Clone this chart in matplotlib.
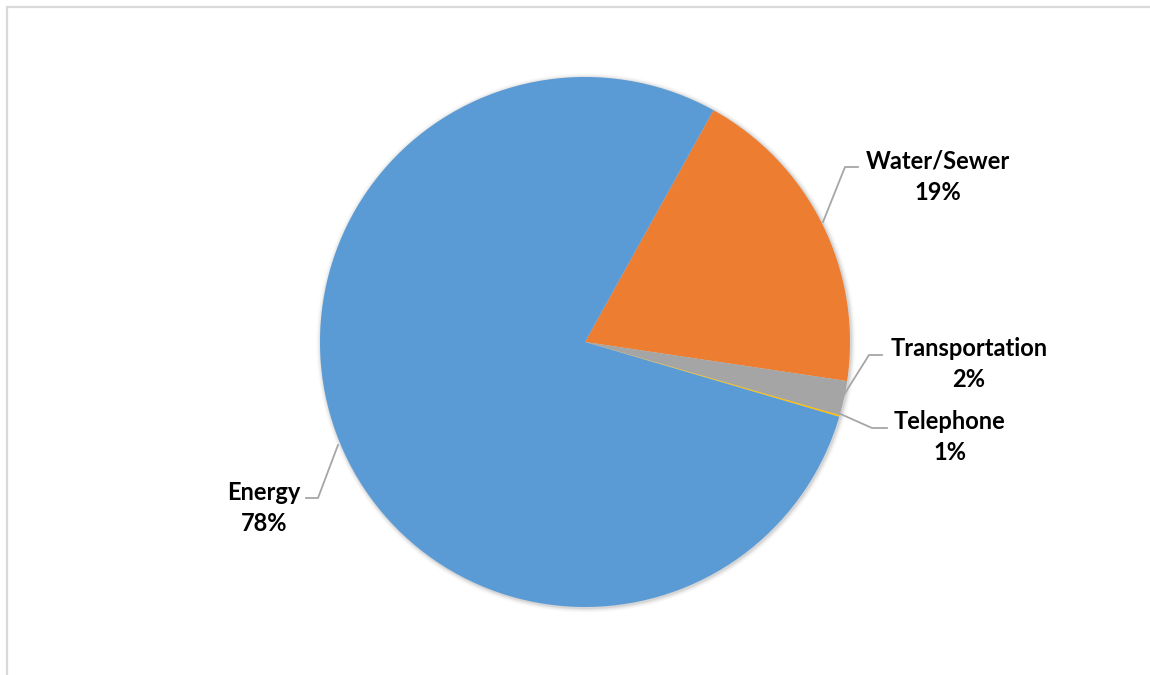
import matplotlib
matplotlib.use("Agg")
import matplotlib.pyplot as plt
from matplotlib.patches import Circle, Rectangle

# Data
categories = ["Water/Sewer", "Transportation", "Telephone", "Energy"]
shares = [19.3, 2.1, 0.1, 78.5]          # slice sizes
label_pct = [19, 2, 1, 78]               # percentages as printed on labels
colors = ["#ED7D31", "#A5A5A5", "#FFC000", "#5B9BD5"]

W, H = 1150, 675
fig = plt.figure(figsize=(W / 100, H / 100), dpi=100)
ax = fig.add_axes([0, 0, 1, 1])

cx, cy, r = 585, 342, 265

# soft shadow
for i, a in enumerate([0.06, 0.045, 0.03, 0.02, 0.012]):
    ax.add_patch(Circle((cx + 1, cy + 1), r + 1 + i, color="#000000", alpha=a, lw=0, zorder=0))

# y axis inverted -> counterclock=True renders as clockwise on screen
wedges, _ = ax.pie(shares, colors=colors, startangle=-61, counterclock=True,
                   radius=r, center=(cx, cy), frame=True,
                   wedgeprops=dict(linewidth=0))
ax.set_xlim(0, W)
ax.set_ylim(H, 0)
ax.set_aspect("equal")
ax.axis("off")
for w in wedges:
    w.set_zorder(2)

font = dict(family=["Lato", "DejaVu Sans"], fontweight="bold", fontsize=17, color="black")

label_pos = {
    "Water/Sewer": (938, 177),
    "Transportation": (969, 364),
    "Telephone": (950, 437),
    "Energy": (264, 508),
}
leaders = {
    "Water/Sewer": [(823, 222), (845, 167), (858, 167)],
    "Transportation": [(842, 398), (869, 355), (882, 355)],
    "Telephone": [(836, 412), (872, 428), (887, 428)],
    "Energy": [(338, 445), (318, 498), (306, 498)],
}
for name, pct in zip(categories, label_pct):
    x, y = label_pos[name]
    ax.text(x, y, f"{name}\n{pct}%", ha="center", va="center",
            linespacing=1.45, zorder=5, **font)
    xs, ys = zip(*leaders[name])
    ax.plot(xs, ys, color="#A6A6A6", lw=1.3, zorder=4, solid_joinstyle="miter")

# chart border (top and left visible)
fig.patches.append(Rectangle((6.5 / W, -0.1), 1.2, (H - 6.5) / H + 0.1,
                             transform=fig.transFigure, fill=False,
                             edgecolor="#D9D9D9", lw=1.6))

fig.savefig("out.png", dpi=100, facecolor="white")
